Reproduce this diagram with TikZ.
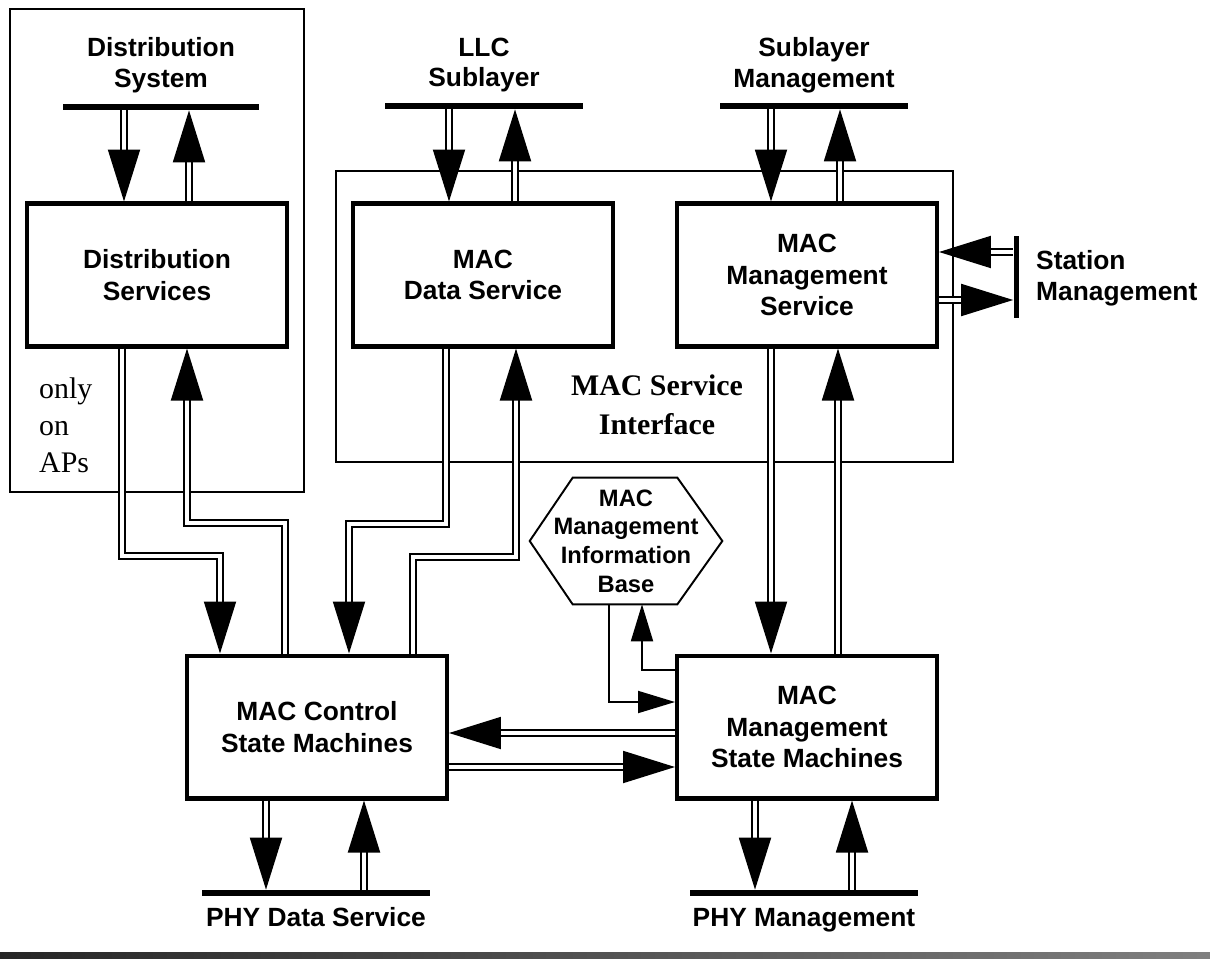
\documentclass[tikz,border=0pt]{standalone}
\usepackage{fontspec}
\setmainfont{Liberation Serif}
\setsansfont{Liberation Sans}
\usetikzlibrary{arrows.meta}

\tikzset{
    block/.style={draw, line width=2.3pt, minimum width=5.2cm, minimum height=2.86cm,
        align=center, font=\sffamily\bfseries\fontsize{15}{18}\selectfont},
    bar/.style={fill=black, inner sep=0pt, minimum height=0.12cm},
    lbl/.style={align=center, font=\sffamily\bfseries\fontsize{15}{17.5}\selectfont},
    panel/.style={line width=1.1pt},
    dbl/.style={double, double distance=2.3pt, line width=1.1pt,
        -{Triangle[length=1.04cm, width=0.64cm]}},
    mibarrow/.style={line width=1.1pt, -{Triangle[length=0.74cm, width=0.44cm]}},
}

\begin{document}
\begin{tikzpicture}[x=0.02cm, y=-0.02cm]
    \useasboundingbox (0,0) rectangle (1210,960);

    \draw[panel] (10,9) rectangle (304,492);
    \draw[panel] (336,171) rectangle (953,462);
    \node[anchor=west, align=left, font=\fontsize{17}{21}\selectfont] (aplbl) at (33,425) {only\\on\\APs};
    \node[align=center, font=\bfseries\fontsize{17}{22}\selectfont] (msilbl) at (657,405) {MAC Service\\Interface};

    \node[block] (ds) at (157,275) {Distribution\\Services};
    \node[block] (mds) at (483,275) {MAC\\Data Service};
    \node[block] (mms) at (807,275) {MAC\\Management\\Service};
    \node[block] (mcsm) at (317,727) {MAC Control\\State Machines};
    \node[block] (mmsm) at (807,727) {MAC\\Management\\State Machines};

    \node[bar, minimum width=3.94cm] (dsys) at (161,107) {};
    \node[bar, minimum width=3.96cm] (llc) at (484,106) {};
    \node[bar, minimum width=3.76cm] (slm) at (814,106) {};
    \node[bar, minimum width=0.1cm, minimum height=1.64cm] (stm) at (1016,277) {};
    \node[bar, minimum width=4.56cm] (phyd) at (316,893) {};
    \node[bar, minimum width=4.56cm] (phym) at (804,893) {};

    \node[lbl] (dsyslbl) at (161,65) {Distribution\\System};
    \node[lbl] (llclbl) at (484,65) {LLC\\Sublayer};
    \node[lbl] (slmlbl) at (814,65) {Sublayer\\Management};
    \node[lbl, anchor=west, align=left] (stmlbl) at (1030,278) {Station\\Management};
    \node[lbl, anchor=base] (phydlbl) at (316,926) {PHY Data Service};
    \node[lbl, anchor=base] (phymlbl) at (804,926) {PHY Management};

    \node[font=\sffamily\bfseries\fontsize{13.5}{16.3}\selectfont, align=center, inner sep=0pt,
        minimum width=3.84cm, minimum height=2.52cm] (mib) at (626,541) {MAC\\Management\\Information\\Base};
    \draw[line width=1.1pt] (mib.west) -- ([xshift=0.86cm]mib.north west) -- ([xshift=-0.9cm]mib.north east)
        -- (mib.east) -- ([xshift=-0.9cm]mib.south east) -- ([xshift=0.86cm]mib.south west) -- cycle;

    \draw[dbl] (124,0 |- dsys.south) -- (124,0 |- ds.north);
    \draw[dbl] (189,0 |- ds.north) -- (189,0 |- dsys.south);
    \draw[dbl] (449,0 |- llc.south) -- (449,0 |- mds.north);
    \draw[dbl] (515,0 |- mds.north) -- (515,0 |- llc.south);
    \draw[dbl] (771,0 |- slm.south) -- (771,0 |- mms.north);
    \draw[dbl] (840,0 |- mms.north) -- (840,0 |- slm.south);

    \draw[dbl] (stm.west |- 0,252) -- (mms.east |- 0,252);
    \draw[dbl] (mms.east |- 0,300) -- (stm.west |- 0,300);

    \draw[dbl] (122,0 |- ds.south) |- (220,556) -- (220,0 |- mcsm.north);
    \draw[dbl] (285,0 |- mcsm.north) |- (187,523) -- (187,0 |- ds.south);
    \draw[dbl] (446,0 |- mds.south) |- (349,524) -- (349,0 |- mcsm.north);
    \draw[dbl] (413,0 |- mcsm.north) |- (516,557) -- (516,0 |- mds.south);
    \draw[dbl] (771,0 |- mms.south) -- (771,0 |- mmsm.north);
    \draw[dbl] (838,0 |- mmsm.north) -- (838,0 |- mms.south);

    \draw[dbl] (mmsm.west |- 0,733) -- (mcsm.east |- 0,733);
    \draw[dbl] (mcsm.east |- 0,767) -- (mmsm.west |- 0,767);

    \draw[mibarrow] (mmsm.west |- 0,670) -| (642,0 |- mib.south);
    \draw[mibarrow] (609,0 |- mib.south) |- (mmsm.west |- 0,702);

    \draw[dbl] (266,0 |- mcsm.south) -- (266,0 |- phyd.north);
    \draw[dbl] (364,0 |- phyd.north) -- (364,0 |- mcsm.south);
    \draw[dbl] (755,0 |- mmsm.south) -- (755,0 |- phym.north);
    \draw[dbl] (852,0 |- phym.north) -- (852,0 |- mmsm.south);

    \shade[left color=black!85, right color=black!50] (0,952) rectangle (1210,958);
\end{tikzpicture}
\end{document}
